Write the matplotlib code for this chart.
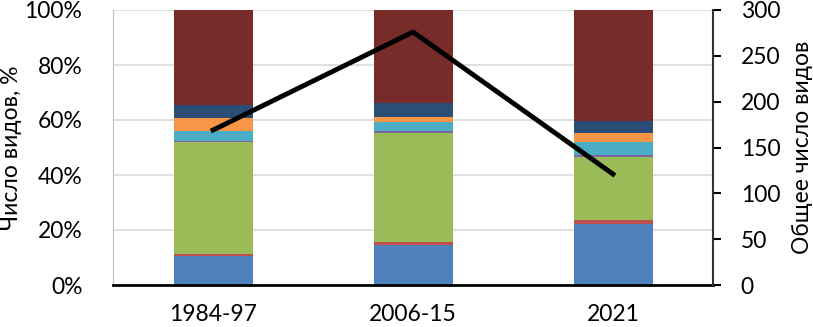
import matplotlib.pyplot as plt
import numpy as np
from matplotlib.ticker import PercentFormatter

plt.rcParams['font.family'] = ['Lato', 'DejaVu Sans']

# periods
periods = ["1984-97", "2006-15", "2021"]

# share of species by group, % (stacked bottom -> top)
grp1 = [10.5, 14.5, 22.2]   # blue
grp2 = [0.7, 1.3, 1.6]      # red
grp3 = [40.7, 39.4, 22.6]   # green
grp4 = [0.6, 0.9, 0.8]      # purple
grp5 = [3.4, 3.3, 4.7]      # cyan
grp6 = [4.8, 1.8, 3.3]      # orange
grp7 = [4.9, 4.9, 4.3]      # dark blue
grp8 = [34.4, 33.9, 40.5]   # dark red

# total number of species
total = [169, 276, 121]

groups = [grp1, grp2, grp3, grp4, grp5, grp6, grp7, grp8]
colors = ["#4F81BD", "#C0504D", "#9BBB59", "#8064A2",
          "#4BACC6", "#F79646", "#2C4D75", "#772C2A"]

fig = plt.figure(figsize=(8.13, 3.27), dpi=100)
ax = fig.add_axes([113/813, 1-285/327, 600/813, 275/327])

x = np.arange(len(periods))
bottom = np.zeros(len(periods))
for vals, c in zip(groups, colors):
    ax.bar(x, vals, 0.395, bottom=bottom, color=c, zorder=2)
    bottom += np.array(vals)

ax.set_xlim(-0.5, 2.5)
ax.set_ylim(0, 100)
ax.set_yticks(range(0, 101, 20))
ax.yaxis.set_major_formatter(PercentFormatter(decimals=0))
ax.grid(axis='y', color='#D9D9D9', linewidth=1.2, zorder=0)
ax.set_xticks(x)
ax.set_xticklabels(periods)
ax.tick_params(axis='x', length=0, pad=14, labelsize=16.5)
ax.tick_params(axis='y', length=0, pad=22, labelsize=16.5)
ax.set_ylabel("Число видов, %", fontsize=16.5, labelpad=2)
for s in ['top', 'right']:
    ax.spines[s].set_visible(False)
ax.spines['left'].set_color('#BFBFBF')
ax.spines['bottom'].set_linewidth(2)
ax.spines['bottom'].set_zorder(5)

ax2 = ax.twinx()
ax2.plot(x, total, color='black', linewidth=3.5, zorder=5)
ax2.set_ylim(0, 300)
ax2.set_yticks(range(0, 301, 50))
ax2.tick_params(axis='y', direction='out', length=6, width=1.5, pad=14, labelsize=16.5)
ax2.set_ylabel("Общее число видов", fontsize=16.5, labelpad=8)
for s in ['top', 'left', 'bottom']:
    ax2.spines[s].set_visible(False)
ax2.spines['right'].set_linewidth(1.5)
ax2.spines['right'].set_color('#333333')

fig.savefig("out.png", dpi=100)
